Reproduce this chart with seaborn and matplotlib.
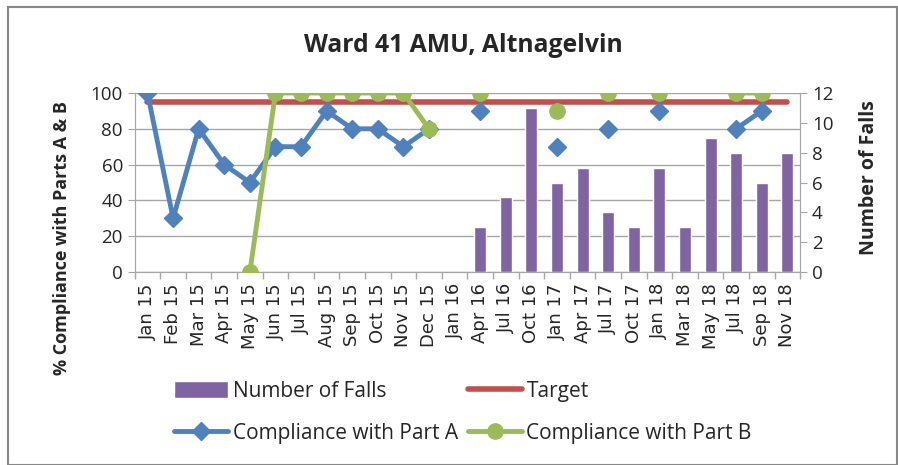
import numpy as np
import pandas as pd
import seaborn as sns
import matplotlib.pyplot as plt
from matplotlib.patches import Rectangle, Patch
from matplotlib.lines import Line2D

# chart data
months = ['Jan 15', 'Feb 15', 'Mar 15', 'Apr 15', 'May 15', 'Jun 15', 'Jul 15',
          'Aug 15', 'Sep 15', 'Oct 15', 'Nov 15', 'Dec 15', 'Jan 16', 'Apr 16',
          'Jul 16', 'Oct 16', 'Jan 17', 'Apr 17', 'Jul 17', 'Oct 17', 'Jan 18',
          'Mar 18', 'May 18', 'Jul 18', 'Sep 18', 'Nov 18']
nan = np.nan
falls = [nan, nan, nan, nan, nan, nan, nan, nan, nan, nan, nan, nan, nan,
         3, 5, 11, 6, 7, 4, 3, 7, 3, 9, 8, 6, 8]
part_a = [100, 30, 80, 60, 50, 70, 70, 90, 80, 80, 70, 80, nan, 90,
          nan, nan, 70, nan, 80, nan, 90, nan, nan, 80, 90, nan]
part_b = [nan, nan, nan, nan, 0, 100, 100, 100, 100, 100, 100, 80, nan, 100,
          nan, nan, 90, nan, 100, nan, 100, nan, nan, 100, 100, nan]
target = [95] * len(months)

c_blue = '#4F81BD'
c_green = '#9BBB59'
c_red = '#C0504D'
c_purple = '#8064A2'
c_grid = '#A6A6A6'

sns.set_style('white')
plt.rcParams['font.family'] = ['Open Sans', 'DejaVu Sans']

fig = plt.figure(figsize=(8.98, 4.65), dpi=100)
ax = fig.add_axes([0.150, 0.415, 0.741, 0.385])   # falls (bars), right scale
ax2 = ax.twinx()                                   # compliance lines, left scale

df = pd.DataFrame({'Month': months, 'Falls': falls})
x = np.arange(len(months))

# gridlines every 20% drawn behind bars
for p in range(0, 101, 20):
    ax.axhline(p * 12 / 100, color=c_grid, lw=1, zorder=0)

sns.barplot(data=df, x='Month', y='Falls', order=months, color=c_purple,
            saturation=1, width=0.47, ax=ax, zorder=2)
ax.set_ylim(0, 12)
ax.set_xlim(-0.5, len(months) - 0.5)
ax.yaxis.tick_right()
ax.yaxis.set_label_position('right')
ax.set_yticks(range(0, 13, 2))
ax.set_ylabel('Number of Falls', fontsize=14, fontweight='bold')
ax.yaxis.set_label_coords(1.089, 0.53)
ax.set_xlabel('')

ax2.plot(x, target, color=c_red, lw=4, zorder=2)
ax2.plot(x, part_a, color=c_blue, lw=3.5, marker='D', ms=9.5, zorder=3)
ax2.plot(x, part_b, color=c_green, lw=3.5, marker='o', ms=11, zorder=4)
ax2.set_ylim(0, 100)
ax2.yaxis.tick_left()
ax2.yaxis.set_label_position('left')
ax2.set_yticks(range(0, 101, 20))
ax2.set_ylabel('% Compliance with Parts A & B', fontsize=13, fontweight='bold')
ax2.yaxis.set_label_coords(-0.095, 0.19)

# x ticks: labels at categories, tick marks between categories
ax.set_xticks(x)
ax.set_xticklabels(months, rotation=90, fontsize=13, family='DejaVu Sans')
ax.set_xticks(np.arange(-0.5, len(months)), minor=True)
ax.tick_params(axis='x', which='major', length=0, pad=8)
ax.tick_params(axis='x', which='minor', length=5, color=c_grid, width=1,
               direction='out', bottom=True)
ax.tick_params(axis='y', labelsize=13.5, length=5, color=c_grid, right=True,
               direction='out')
ax2.tick_params(axis='y', labelsize=13.5, length=5, color=c_grid, left=True,
                direction='out')

for a in (ax, ax2):
    a.spines['top'].set_visible(False)
    a.spines['bottom'].set_color(c_grid)
    a.spines['left'].set_color(c_grid)
    a.spines['right'].set_color(c_grid)

fig.suptitle('Ward 41 AMU, Altnagelvin', fontsize=17.8, fontweight='bold',
             x=0.516, y=0.93)

handles = [
    Patch(facecolor=c_purple, label='Number of Falls'),
    Line2D([], [], color=c_blue, lw=3.5, marker='D', ms=9.5, label='Compliance with Part A'),
    Line2D([], [], color=c_red, lw=4, label='Target'),
    Line2D([], [], color=c_green, lw=3.5, marker='o', ms=11, label='Compliance with Part B'),
]
fig.legend(handles=handles, ncol=2, loc='center', bbox_to_anchor=(0.5156, 0.113),
           frameon=False, fontsize=15, handlelength=2.6, handleheight=0.9,
           columnspacing=0.5, labelspacing=1.05, handletextpad=0.2, borderpad=0)

fig.patches.append(Rectangle((0.009, 0.0), 0.99, 0.985, transform=fig.transFigure,
                             fill=False, edgecolor='#888888', lw=1.5))

fig.savefig('out.png', dpi=100)
